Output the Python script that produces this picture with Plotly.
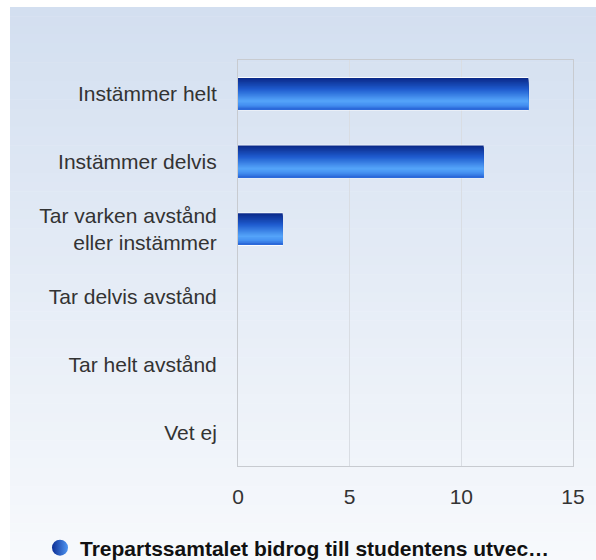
import plotly.graph_objects as go

categories = ["Instämmer helt", "Instämmer delvis", "Tar varken avstånd<br>eller instämmer",
              "Tar delvis avstånd", "Tar helt avstånd", "Vet ej"]
values = [13, 11, 2, 0, 0, 0]
series_name = "Trepartssamtalet bidrog till studentens utvec…"
x_ticks = [0, 5, 10, 15]

W, H = 596, 560
L, R, T, B = 238, 23, 60, 94
pw, ph = W - L - R, H - T - B

def px2x(px):
    return (px - L) / pw

def py2y(py):
    return (H - B - py) / ph

def lerp(c1, c2, t):
    return tuple(round(c1[j] + (c2[j] - c1[j]) * t) for j in range(3))

fig = go.Figure()

# vertical gradient stops for the bars (fraction from top, colour)
stops = [(0.0, (10, 40, 135)), (0.35, (30, 90, 205)), (0.72, (85, 165, 250)),
         (0.85, (70, 145, 242)), (1.0, (40, 100, 214))]

def grad(t):
    for (a, ca), (b, cb) in zip(stops[:-1], stops[1:]):
        if a <= t <= b:
            return lerp(ca, cb, (t - a) / (b - a))
    return stops[-1][1]

bar_w = 0.47
n = 24
# white halo
fig.add_trace(go.Bar(x=values, y=categories, orientation="h",
                     width=bar_w + 0.025, offset=-(bar_w + 0.025) / 2,
                     marker=dict(color="rgba(255,255,255,0.85)", line=dict(width=0)),
                     showlegend=False, hoverinfo="skip"))
for i in range(n):
    col = grad((i + 0.5) / n)
    off = -bar_w / 2 + i * bar_w / n
    fig.add_trace(go.Bar(x=values, y=categories, orientation="h",
                         width=bar_w / 2 - off, offset=off,
                         marker=dict(color="rgb(%d,%d,%d)" % col, line=dict(width=0)),
                         showlegend=False, hoverinfo="x+y" if i == 0 else "skip"))

# legend entry
fig.add_trace(go.Scatter(x=[None], y=[None], mode="markers", name=series_name,
                         marker=dict(symbol="circle", size=16, color="#0d2f95",
                                     gradient=dict(type="horizontal", color="#4f96f2"),
                                     line=dict(width=0)),
                         showlegend=True))

# background gradient panel
top_c = (211, 223, 240)
bot_c = (247, 249, 252)
y0p, y1p = 7, 560
nb = 60
shapes = []
for k in range(nb):
    a = y0p + (y1p - y0p) * k / nb
    b = y0p + (y1p - y0p) * (k + 1) / nb
    col = lerp(top_c, bot_c, k / (nb - 1))
    shapes.append(dict(type="rect", xref="paper", yref="paper", layer="below",
                       x0=px2x(10), x1=px2x(600), y0=py2y(b + 0.5), y1=py2y(a),
                       fillcolor="rgb(%d,%d,%d)" % col, line=dict(width=0)))

fig.update_layout(
    width=W, height=H,
    margin=dict(l=L, r=R, t=T, b=B, autoexpand=False),
    paper_bgcolor="white",
    plot_bgcolor="rgba(0,0,0,0)",
    barmode="overlay",
    shapes=shapes,
    font=dict(family="Liberation Sans, Arial, sans-serif", size=21, color="#333333"),
    showlegend=True,
    legend=dict(orientation="h", x=px2x(40), xanchor="left", y=py2y(548), yanchor="middle",
                bgcolor="rgba(0,0,0,0)",
                font=dict(family="Liberation Sans, Arial, sans-serif", size=21,
                          color="#111111", weight="bold"),
                itemsizing="trace"),
)
fig.update_xaxes(range=[0, 15], tickvals=x_ticks, ticktext=[str(v) for v in x_ticks],
                 showgrid=True, gridcolor="#d9dde3", gridwidth=1,
                 showline=True, linecolor="#c8cbd0", linewidth=1, mirror=True,
                 zeroline=False, ticks="", ticklabelstandoff=12,
                 tickfont=dict(size=21, color="#333333"), fixedrange=True)
fig.update_yaxes(categoryorder="array", categoryarray=categories, autorange="reversed",
                 showgrid=False, showline=True, linecolor="#c8cbd0", linewidth=1, mirror=True,
                 ticks="", ticklabelstandoff=16,
                 tickfont=dict(size=21, color="#333333"), fixedrange=True)

fig.write_html("out.html", config={"displayModeBar": False},
               post_script="document.body.style.margin='0';")
